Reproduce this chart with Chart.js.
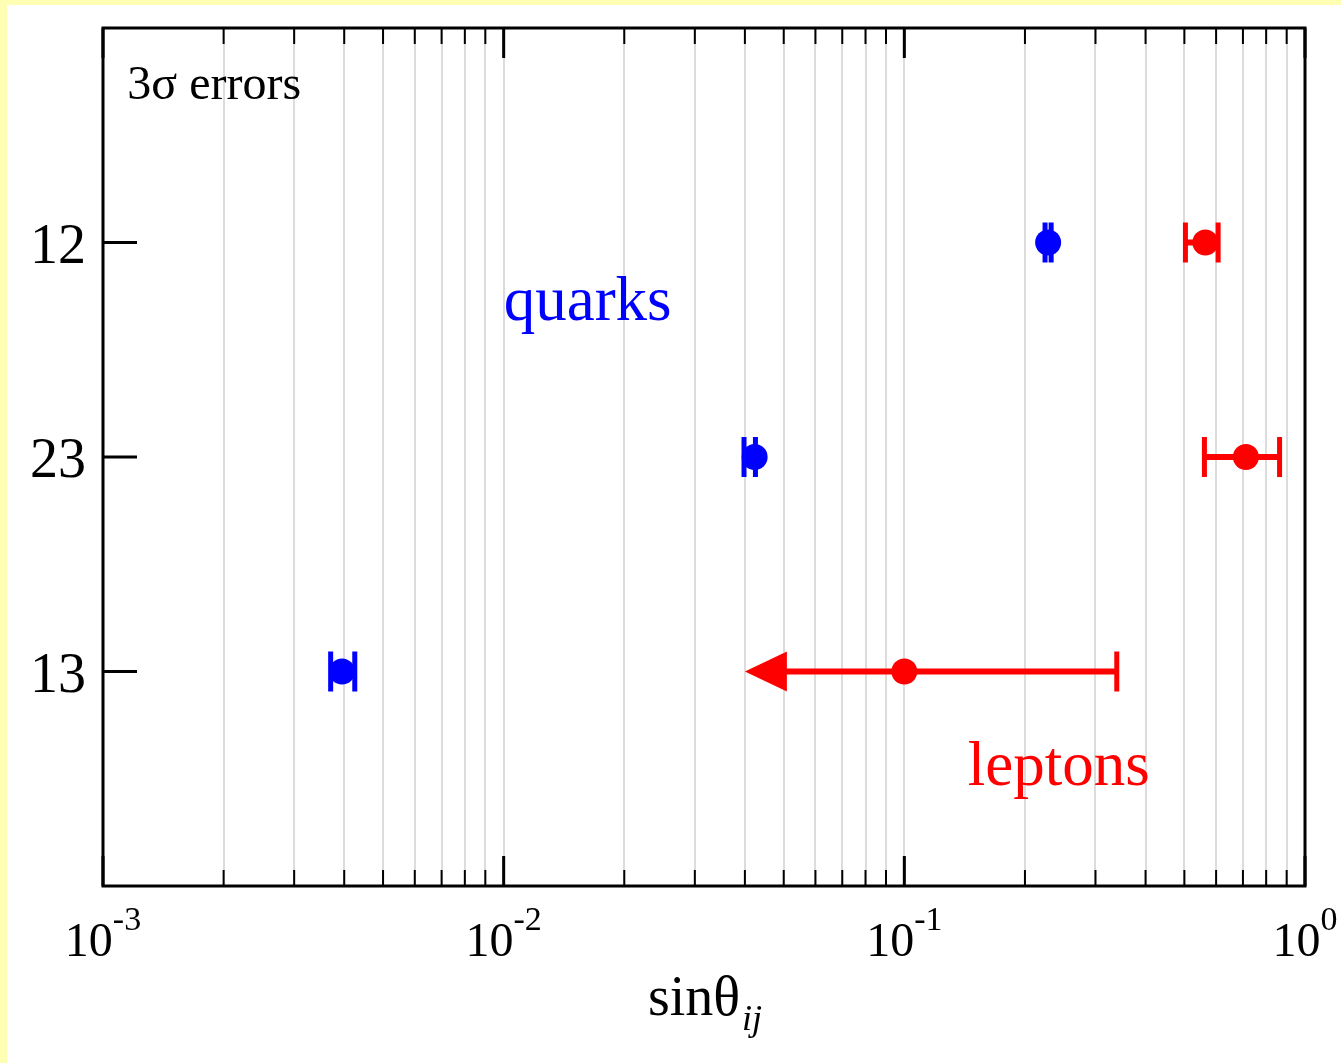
<!DOCTYPE html>
<html>
<head>
<meta charset="utf-8">
<script src="https://cdn.jsdelivr.net/npm/chart.js@4.4.1/dist/chart.umd.min.js"></script>
<style>
  html, body { margin: 0; padding: 0; background: #ffffb4; }
  #wrap { position: absolute; left: 7px; top: 5px; width: 1334px; height: 1058px; background: #fff; }
</style>
</head>
<body>
<div id="wrap"><canvas id="c" width="1334" height="1058"></canvas></div>
<script>
// mixing angles, one row each
const categories = ['12', '23', '13'];
const categoryPos = [3, 2, 1];

// quarks, 3 sigma ranges
const quarkCentral = [0.2285, 0.0423, 0.00395];
const quarkLow = [0.2245, 0.0398, 0.0037];
const quarkHigh = [0.2325, 0.0425, 0.00425];

// leptons, 3 sigma ranges (13 is only an upper bound -> arrow)
const leptonCentral = [0.564, 0.712, 0.1];
const leptonLow = [0.503, 0.561, 0.040];
const leptonHigh = [0.607, 0.864, 0.339];
const leptonArrow = [false, false, true];

// x axis
const xDecades = [0.001, 0.01, 0.1, 1];
const xDecadeExp = ['-3', '-2', '-1', '0'];
const xMinorMult = [2, 3, 4, 5, 6, 7, 8, 9];

const BLUE = '#0000ff';
const RED = '#ff0000';
const SERIF = '"Liberation Serif", "DejaVu Serif", serif';

let xMinor = [];
xDecades.slice(0, -1).forEach(d => xMinorMult.forEach(m => xMinor.push(d * m)));

const errorBars = {
  id: 'errorBars',
  beforeDatasetsDraw(chart) {
    const ctx = chart.ctx, sx = chart.scales.x, sy = chart.scales.y;
    const bar = (lo, hi, yv, color, lw, capW, arrow) => {
      const y = sy.getPixelForValue(yv);
      const x1 = sx.getPixelForValue(lo), x2 = sx.getPixelForValue(hi);
      ctx.save();
      ctx.strokeStyle = color;
      ctx.fillStyle = color;
      ctx.lineWidth = lw;
      ctx.beginPath();
      ctx.moveTo(arrow ? x1 + 40 : x1, y);
      ctx.lineTo(x2, y);
      ctx.stroke();
      ctx.lineWidth = capW;
      ctx.beginPath();
      if (!arrow) { ctx.moveTo(x1, y - 20); ctx.lineTo(x1, y + 20); }
      ctx.moveTo(x2, y - 20); ctx.lineTo(x2, y + 20);
      ctx.stroke();
      if (arrow) {
        ctx.beginPath();
        ctx.moveTo(x1, y);
        ctx.lineTo(x1 + 42, y - 20);
        ctx.lineTo(x1 + 42, y + 20);
        ctx.closePath();
        ctx.fill();
      }
      ctx.restore();
    };
    categoryPos.forEach((p, i) => {
      bar(quarkLow[i], quarkHigh[i], p, BLUE, 4, 5, false);
      bar(leptonLow[i], leptonHigh[i], p, RED, 6, 5, leptonArrow[i]);
    });
  }
};

const frameAndText = {
  id: 'frameAndText',
  afterDraw(chart) {
    const ctx = chart.ctx, sx = chart.scales.x, sy = chart.scales.y;
    const a = chart.chartArea;
    ctx.save();
    ctx.strokeStyle = '#000';
    // ticks, inward
    ctx.lineWidth = 2;
    ctx.beginPath();
    xMinor.forEach(v => {
      const x = sx.getPixelForValue(v);
      ctx.moveTo(x, a.bottom); ctx.lineTo(x, a.bottom - 16);
      ctx.moveTo(x, a.top); ctx.lineTo(x, a.top + 16);
    });
    ctx.stroke();
    ctx.lineWidth = 3;
    ctx.beginPath();
    xDecades.forEach(v => {
      const x = sx.getPixelForValue(v);
      ctx.moveTo(x, a.bottom); ctx.lineTo(x, a.bottom - 30);
      ctx.moveTo(x, a.top); ctx.lineTo(x, a.top + 30);
    });
    categoryPos.forEach(p => {
      const y = sy.getPixelForValue(p);
      ctx.moveTo(a.left, y); ctx.lineTo(a.left + 34, y);
    });
    ctx.stroke();
    // frame
    ctx.lineWidth = 3;
    ctx.strokeRect(a.left, a.top, a.right - a.left, a.bottom - a.top);

    ctx.fillStyle = '#000';
    ctx.textBaseline = 'alphabetic';
    // y tick labels
    ctx.font = '56px ' + SERIF;
    ctx.textAlign = 'right';
    categoryPos.forEach((p, i) => {
      ctx.fillText(categories[i], a.left - 17, sy.getPixelForValue(p) + 20);
    });
    // x tick labels 10^n
    ctx.textAlign = 'left';
    xDecades.forEach((v, i) => {
      const x = sx.getPixelForValue(v);
      ctx.font = '48px ' + SERIF;
      const w1 = ctx.measureText('10').width;
      ctx.font = '34px ' + SERIF;
      const w2 = ctx.measureText(xDecadeExp[i]).width;
      const x0 = x - (w1 + w2) / 2;
      ctx.font = '48px ' + SERIF;
      ctx.fillText('10', x0, a.bottom + 70);
      ctx.font = '34px ' + SERIF;
      ctx.fillText(xDecadeExp[i], x0 + w1, a.bottom + 44);
    });
    // axis title
    ctx.font = '56px ' + SERIF;
    const t1 = 'sin\u03b8';
    const tw1 = ctx.measureText(t1).width;
    ctx.font = 'italic 36px ' + SERIF;
    const tw2 = ctx.measureText('ij').width;
    const tx = (a.left + a.right) / 2 - (tw1 + tw2) / 2;
    ctx.font = '56px ' + SERIF;
    ctx.fillText(t1, tx, a.bottom + 129);
    ctx.font = 'italic 36px ' + SERIF;
    ctx.fillText('ij', tx + tw1 + 2, a.bottom + 144);

    // annotations
    ctx.font = '48px ' + SERIF;
    ctx.fillText('3\u03c3 errors', sx.getPixelForValue(0.00115), sy.getPixelForValue(3.67));
    ctx.font = '63px ' + SERIF;
    ctx.fillStyle = BLUE;
    ctx.fillText('quarks', sx.getPixelForValue(0.01), sy.getPixelForValue(2.64));
    ctx.fillStyle = RED;
    ctx.fillText('leptons', sx.getPixelForValue(0.144), sy.getPixelForValue(0.47));
    ctx.restore();
  }
};

new Chart(document.getElementById('c'), {
  type: 'scatter',
  data: {
    datasets: [
      {
        label: 'quarks',
        data: quarkCentral.map((v, i) => ({ x: v, y: categoryPos[i] })),
        pointRadius: 13,
        pointBackgroundColor: BLUE,
        pointBorderWidth: 0
      },
      {
        label: 'leptons',
        data: leptonCentral.map((v, i) => ({ x: v, y: categoryPos[i] })),
        pointRadius: 13,
        pointBackgroundColor: RED,
        pointBorderWidth: 0
      }
    ]
  },
  options: {
    responsive: false,
    animation: false,
    events: [],
    layout: { padding: { left: 96, top: 23, right: 36, bottom: 177 } },
    plugins: { legend: { display: false }, tooltip: { enabled: false } },
    scales: {
      x: {
        type: 'logarithmic',
        min: 0.001,
        max: 1,
        afterBuildTicks: s => { s.ticks = xDecades.concat(xMinor).map(v => ({ value: v })); },
        ticks: { display: false },
        border: { display: false },
        grid: { color: '#dcdcdc', lineWidth: 2, drawTicks: false }
      },
      y: {
        min: 0,
        max: 4,
        afterBuildTicks: s => { s.ticks = categoryPos.map(v => ({ value: v })); },
        ticks: { display: false },
        border: { display: false },
        grid: { display: false, drawTicks: false }
      }
    }
  },
  plugins: [errorBars, frameAndText]
});
</script>
</body>
</html>
